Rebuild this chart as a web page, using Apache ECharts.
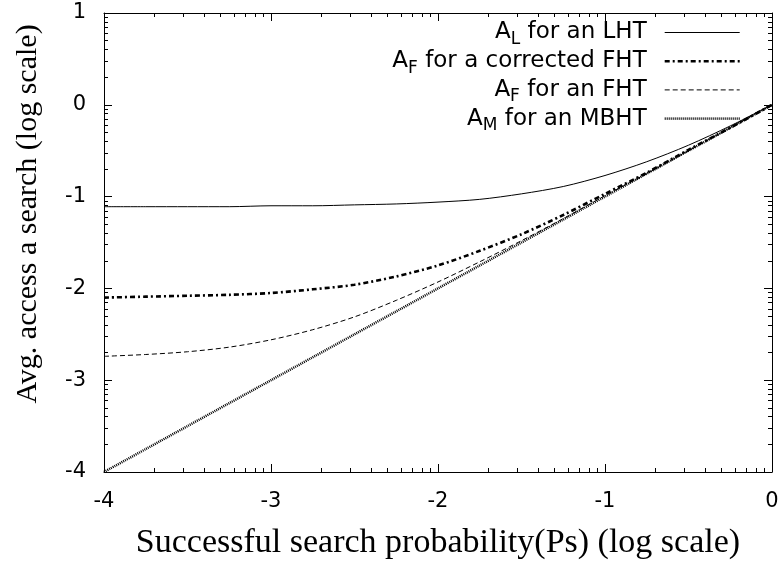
<!DOCTYPE html>
<html>
<head>
<meta charset="utf-8">
<script src="https://cdn.jsdelivr.net/npm/echarts@6/dist/echarts.min.js"></script>
<style>html,body{margin:0;padding:0;background:#fff}#c{width:779px;height:564px}</style>
</head>
<body>
<div id="c"></div>
<script>
// log10(Ps)
const xValues = [-4, -3.75, -3.5, -3.25, -3, -2.75, -2.5, -2.25, -2, -1.75, -1.5, -1.25, -1, -0.75, -0.5, -0.25, 0];
// log10(avg access)
const lhtValues = [-1.11, -1.11, -1.11, -1.11, -1.10, -1.10, -1.09, -1.08, -1.06, -1.03, -0.97, -0.89, -0.77, -0.62, -0.44, -0.23, 0];
const corrFhtValues = [-2.10, -2.09, -2.08, -2.07, -2.05, -2.01, -1.96, -1.87, -1.75, -1.59, -1.41, -1.20, -0.97, -0.74, -0.49, -0.25, 0];
const fhtValues = [-2.74, -2.72, -2.69, -2.64, -2.56, -2.45, -2.31, -2.13, -1.93, -1.71, -1.48, -1.24, -0.99, -0.75, -0.50, -0.25, 0];
const mbhtValues = [-4, -3.75, -3.5, -3.25, -3, -2.75, -2.5, -2.25, -2, -1.75, -1.5, -1.25, -1, -0.75, -0.5, -0.25, 0];

const seriesNames = ['A_L for an LHT', 'A_F for a corrected FHT', 'A_F for an FHT', 'A_M for an MBHT'];
const seriesSubs = ['L', 'F', 'F', 'M'];
const seriesRest = [' for an LHT', ' for a corrected FHT', ' for an FHT', ' for an MBHT'];

const xTicks = [-4, -3, -2, -1, 0];
const yTicks = [-4, -3, -2, -1, 0, 1];
const xTitle = 'Successful search probability(Ps) (log scale)';
const yTitle = 'Avg. access a search (log scale)';

function minorTicks(lo, hi) {
  const out = [];
  for (let d = lo; d < hi; d++) {
    for (let k = 2; k <= 9; k++) out.push(d + Math.log10(k));
  }
  return out;
}
const xMinor = minorTicks(-4, 0);
const yMinor = minorTicks(-4, 1);

const FONT = 'DejaVu Sans, Liberation Sans, Arial, sans-serif';
const SERIF = 'Liberation Serif, Times New Roman, serif';
const black = '#000';

function mkX(pos, major, showLabel, showLine) {
  return {
    type: 'value', position: pos, min: -4, max: 0, interval: 1,
    axisLine: { show: showLine, onZero: false, lineStyle: { color: black, width: 1 } },
    axisTick: major
      ? { show: true, inside: true, length: 8, lineStyle: { color: black }, customValues: xTicks }
      : { show: true, inside: true, length: 4, lineStyle: { color: black }, customValues: xMinor },
    axisLabel: { show: showLabel, color: black, fontFamily: FONT, fontSize: 21, margin: 19, customValues: xTicks },
    splitLine: { show: false },
    name: showLabel ? xTitle : '',
    nameLocation: 'middle', nameGap: 54,
    nameTextStyle: { fontFamily: SERIF, fontSize: 34, color: black }
  };
}
function mkY(pos, major, showLabel, showLine) {
  return {
    type: 'value', position: pos, min: -4, max: 1, interval: 1,
    axisLine: { show: showLine, onZero: false, lineStyle: { color: black, width: 1 } },
    axisTick: major
      ? { show: true, inside: true, length: 8, lineStyle: { color: black }, customValues: yTicks }
      : { show: true, inside: true, length: 4, lineStyle: { color: black }, customValues: yMinor },
    axisLabel: { show: showLabel, color: black, fontFamily: FONT, fontSize: 21, margin: 18, customValues: yTicks },
    splitLine: { show: false }
  };
}

function pairs(ys) { return xValues.map((x, i) => [x, ys[i]]); }

const lineStyles = [
  { color: black, width: 1, type: 'solid' },
  { color: black, width: 2.6, type: [5, 3, 2, 3] },
  { color: black, width: 1, type: [5, 3] },
  { color: black, width: 2.5, type: [1, 1] }
];
const allValues = [lhtValues, corrFhtValues, fhtValues, mbhtValues];

const chart = echarts.init(document.getElementById('c'), null, { renderer: 'canvas' });
chart.setOption({
  backgroundColor: '#fff',
  animation: false,
  grid: { left: 104, right: 7, top: 13, bottom: 92, containLabel: false, outerBoundsMode: 'none' },
  xAxis: [mkX('bottom', true, true, true), mkX('bottom', false, false, false), mkX('top', true, false, true), mkX('top', false, false, false)],
  yAxis: [mkY('left', true, true, true), mkY('left', false, false, false), mkY('right', true, false, true), mkY('right', false, false, false)],
  legend: {
    orient: 'vertical', align: 'right', right: 38, top: 17, padding: 0,
    itemWidth: 75, itemHeight: 14, itemGap: -2.3,
    data: seriesNames,
    itemStyle: { color: 'transparent', borderColor: 'transparent', borderWidth: 0, opacity: 0 },
    lineStyle: { width: 'inherit' },
    formatter: function (name) {
      const i = seriesNames.indexOf(name);
      return '{a|A}{s|' + seriesSubs[i] + '}{a|' + seriesRest[i] + '}';
    },
    textStyle: {
      color: black, fontFamily: FONT, fontSize: 23, padding: [0, 13, 0, 0],
      rich: {
        a: { fontFamily: FONT, fontSize: 23, lineHeight: 22, color: black },
        s: { fontFamily: FONT, fontSize: 17, lineHeight: 8, padding: [14, 0, 0, 0], color: black }
      }
    }
  },
  graphic: [{
    type: 'text', x: 28, y: 214, rotation: Math.PI / 2,
    style: { text: yTitle, fontFamily: SERIF, fontSize: 30, fill: black, align: 'center', verticalAlign: 'middle' }
  }],
  series: seriesNames.map((n, i) => ({
    name: n, type: 'line', xAxisIndex: 0, yAxisIndex: 0,
    data: pairs(allValues[i]), symbol: 'none', smooth: 0.3,
    lineStyle: lineStyles[i], itemStyle: { color: black }, z: 10 - i
  }))
});
</script>
</body>
</html>
